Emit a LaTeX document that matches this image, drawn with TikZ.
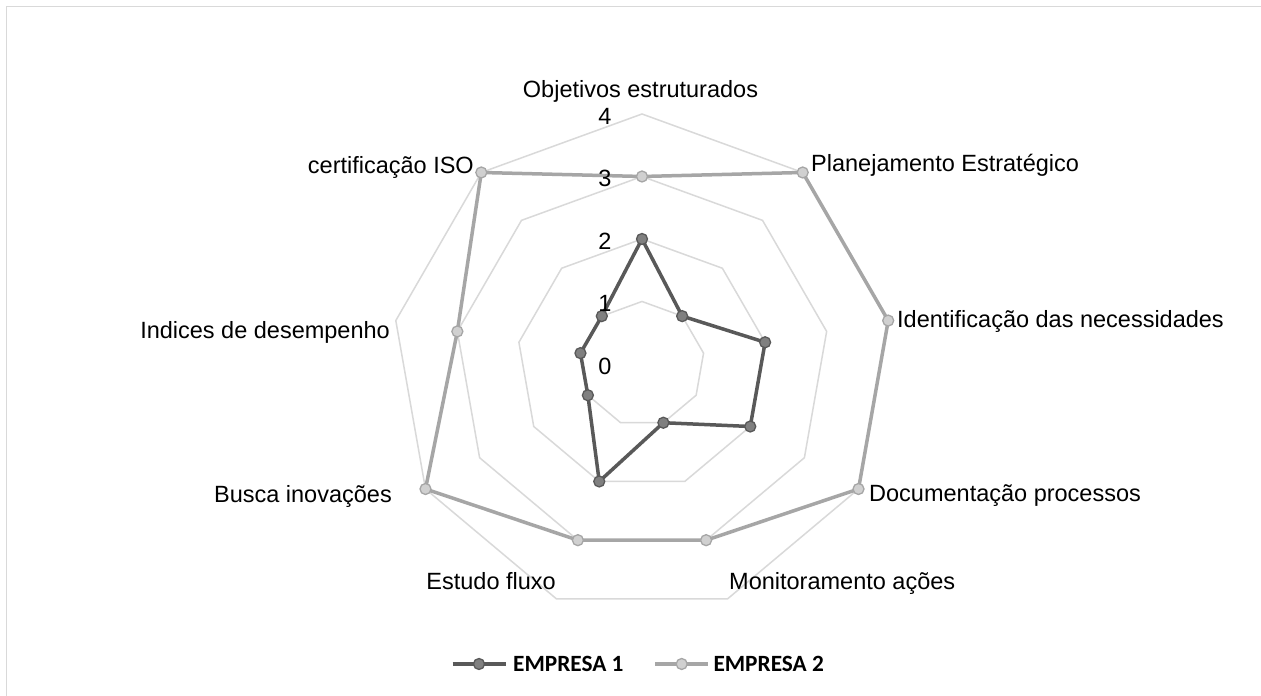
\documentclass[tikz,border=0pt]{standalone}
\usepackage{fontspec}
\setmainfont{Liberation Sans}
\newfontfamily\legfont{Carlito}
\definecolor{gridc}{HTML}{D9D9D9}
\definecolor{eonel}{HTML}{595959}
\definecolor{eonef}{HTML}{808080}
\definecolor{etwol}{HTML}{A6A6A6}
\definecolor{etwof}{HTML}{D0D0D0}
\tikzset{
  ring/.style={draw=gridc, line width=1.5bp, line join=miter},
  serone/.style={draw=eonel, line width=3.5bp, line join=round},
  sertwo/.style={draw=etwol, line width=3.5bp, line join=round},
  mone/.style={circle, draw=eonel, fill=eonef, line width=1.3bp, minimum size=11bp, inner sep=0pt},
  mtwo/.style={circle, draw=etwol, fill=etwof, line width=1.3bp, minimum size=11bp, inner sep=0pt},
  lab/.style={font=\fontsize{23.5bp}{28bp}\selectfont, inner sep=0pt},
  num/.style={font=\fontsize{23.5bp}{28bp}\selectfont, inner sep=0pt},
  leg/.style={font=\fontsize{23.3bp}{27bp}\selectfont\legfont\bfseries, inner sep=0pt}
}
\begin{document}
\begin{tikzpicture}[x=1bp,y=1bp]
\useasboundingbox (0,0) rectangle (1261,696);
\fill[white] (0,0) rectangle (1261,696);
% frame (only left and top edges fall inside the picture)
\begin{scope}
\clip (0,0) rectangle (1261,696);
\coordinate (fa) at (6.5,-5);
\coordinate (fb) at (6.5,689.5);
\coordinate (fc) at (1270,689.5);
\draw[gridc, line width=1.6bp] (fa) -- (fb) -- (fc);
\end{scope}
% chart
\begin{scope}[shift={(642,332)}]
\foreach \v in {1,...,4}{
  \draw[ring] (90:{62.5*\v}) \foreach \k in {1,...,8}{ -- ({90-40*\k}:{62.5*\v}) } -- cycle;
}
% data
\foreach \k/\v in {0/2,1/1,2/2,3/2,4/1,5/2,6/1,7/1,8/1}{
  \coordinate (a\k) at ({90-40*\k}:{62.5*\v});
}
\foreach \k/\v in {0/3,1/4,2/4,3/4,4/3,5/3,6/4,7/3,8/4}{
  \coordinate (b\k) at ({90-40*\k}:{62.5*\v});
}
\draw[sertwo] (b0) -- (b1) -- (b2) -- (b3) -- (b4) -- (b5) -- (b6) -- (b7) -- (b8) -- cycle;
\draw[serone] (a0) -- (a1) -- (a2) -- (a3) -- (a4) -- (a5) -- (a6) -- (a7) -- (a8) -- cycle;
\foreach \k in {0,...,8}{
  \node[mtwo] (mb\k) at (b\k) {};
  \node[mone] (ma\k) at (a\k) {};
}
% axis numbers
\foreach \v in {0,...,4}{
  \node[num] (n\v) at (-37,{62.5*\v-2}) {\v};
}
\end{scope}
% category labels
\node[lab, anchor=base] (l0) at (640.5,598.3) {Objetivos estruturados};
\node[lab, anchor=base west] (l1) at (811,524) {Planejamento Estratégico};
\node[lab, anchor=base west] (l2) at (897,368) {Identificação das necessidades};
\node[lab, anchor=base west] (l3) at (869,194.5) {Documentação processos};
\node[lab, anchor=base west] (l4) at (729,106) {Monitoramento ações};
\node[lab, anchor=base east] (l5) at (556,106) {Estudo fluxo};
\node[lab, anchor=base east] (l6) at (392,193) {Busca inovações};
\node[lab, anchor=base east] (l7) at (390,357) {Indices de desempenho};
\node[lab, anchor=base east] (l8) at (474,522) {certificação ISO};
% legend
\coordinate (la) at (452.7,32);
\coordinate (lb) at (506,32);
\draw[serone] (la) -- (lb);
\node[mone] (lm1) at (479,32) {};
\node[leg, anchor=west] (lt1) at (513,32) {EMPRESA 1};
\coordinate (lc) at (655,32);
\coordinate (ld) at (708,32);
\draw[sertwo] (lc) -- (ld);
\node[mtwo] (lm2) at (681.7,32) {};
\node[leg, anchor=west] (lt2) at (713.3,32) {EMPRESA 2};
\end{tikzpicture}
\end{document}
